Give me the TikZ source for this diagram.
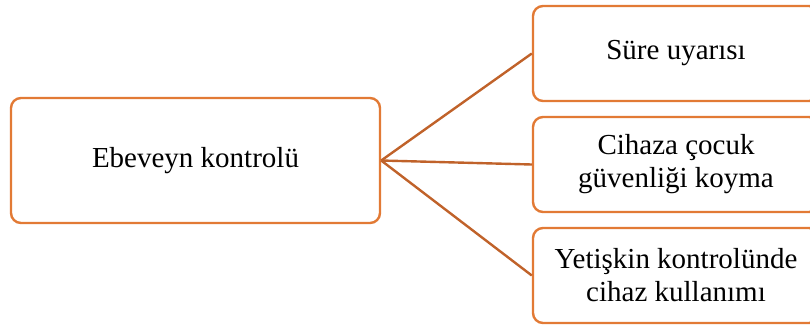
\documentclass[tikz,border=0pt]{standalone}
\usepackage{fontspec}
\setmainfont{Liberation Serif}
\definecolor{boxorange}{HTML}{E27A35}
\definecolor{lineorange}{HTML}{C0622A}
\begin{document}
\begin{tikzpicture}[x=1pt,y=-1pt,
  box/.style={draw=boxorange, line width=2.4pt, rounded corners=10pt, fill=white,
    align=center, font=\fontsize{29}{33}\selectfont, inner sep=0pt},
  conn/.style={draw=lineorange, line width=2.4pt}]
\useasboundingbox (0,0) rectangle (810,325);
\begin{scope}
\clip (0,0) rectangle (810,325);
\node[box, minimum width=369pt, minimum height=125pt] (root) at (195.5,160.5) {Ebeveyn kontrolü};
\node[box, minimum width=286pt, minimum height=95pt] (a) at (676,53.5) {Süre uyarısı};
\node[box, minimum width=286pt, minimum height=95pt] (b) at (676,164.5) {Cihaza çocuk\\güvenliği koyma};
\node[box, minimum width=286pt, minimum height=95pt] (c) at (676,275.5) {Yetişkin kontrolünde\\cihaz kullanımı};
\draw[conn] (root.east) -- (a.west);
\draw[conn] (root.east) -- (b.west);
\draw[conn] (root.east) -- (c.west);
\end{scope}
\end{tikzpicture}
\end{document}
